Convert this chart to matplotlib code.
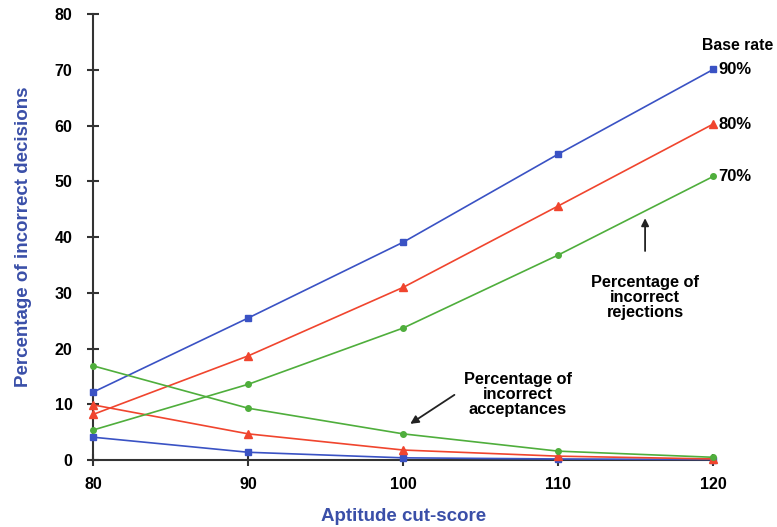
import matplotlib.pyplot as plt

plt.rcParams['font.family'] = ['Liberation Sans', 'DejaVu Sans']
plt.rcParams['font.weight'] = 'bold'

cut_scores = [80, 90, 100, 110, 120]

# percentage of incorrect rejections, by base rate
rej_90 = [12.2, 25.5, 39.1, 54.9, 70.1]
rej_80 = [8.2, 18.7, 31.0, 45.6, 60.3]
rej_70 = [5.4, 13.6, 23.7, 36.8, 50.9]

# percentage of incorrect acceptances, by base rate
acc_90 = [4.1, 1.4, 0.4, 0.2, 0.1]
acc_80 = [9.9, 4.7, 1.8, 0.7, 0.2]
acc_70 = [16.9, 9.3, 4.7, 1.6, 0.5]

base_rates = ["90%", "80%", "70%"]

BLUE = "#3a52c4"
RED = "#f0452e"
GREEN = "#4fae3c"
LABEL_BLUE = "#3a4fa8"

fig = plt.figure(figsize=(7.77, 5.27), dpi=100)
ax = fig.add_axes([0.12, 0.127, 0.798, 0.846])

styles = [(BLUE, "s", 5), (RED, "^", 6), (GREEN, "o", 4)]
rej_series = [rej_90, rej_80, rej_70]
acc_series = [acc_90, acc_80, acc_70]

for (color, marker, ms), rej, acc, rate in zip(styles, rej_series, acc_series, base_rates):
    ax.plot(cut_scores, rej, color=color, lw=1.2, marker=marker, ms=ms, clip_on=False, zorder=3)
    ax.plot(cut_scores, acc, color=color, lw=1.2, marker=marker, ms=ms, clip_on=False, zorder=3)
    ax.annotate(rate, (cut_scores[-1], rej[-1]), xytext=(3.5, 0), textcoords="offset points",
                ha="left", va="center", fontsize=12, fontweight="bold", annotation_clip=False)

ax.annotate("Base rate", (cut_scores[-1], rej_90[-1]), xytext=(-8, 17), textcoords="offset points",
            ha="left", va="center", fontsize=11.3, fontweight="bold", annotation_clip=False)

ax.annotate("Percentage of\nincorrect\nrejections", xy=(115.6, 43.4), xytext=(115.6, 29.2),
            ha="center", va="center", fontsize=11.8, fontweight="bold", linespacing=1.02,
            arrowprops=dict(arrowstyle="-|>", color="#222222", lw=1.3, shrinkA=15, shrinkB=0,
                            mutation_scale=11))
ax.annotate("Percentage of\nincorrect\nacceptances", xy=(100.45, 6.5), xytext=(107.4, 11.8),
            ha="center", va="center", fontsize=11.8, fontweight="bold", linespacing=1.02)
ax.annotate("", xy=(100.45, 6.5), xytext=(103.3, 11.7),
            arrowprops=dict(arrowstyle="-|>", color="#222222", lw=1.3, shrinkA=0, shrinkB=0,
                            mutation_scale=12))

ax.set_xlim(80, 120)
ax.set_ylim(0, 80)
ax.set_xticks(cut_scores)
ax.set_yticks(range(0, 81, 10))
ax.spines["top"].set_visible(False)
ax.spines["right"].set_visible(False)
for side in ("left", "bottom"):
    ax.spines[side].set_linewidth(1.5)
    ax.spines[side].set_color("#333333")
ax.tick_params(axis="both", direction="inout", length=8, width=1.5, color="#333333",
               labelsize=11.5)
ax.tick_params(axis="x", pad=8)
ax.tick_params(axis="y", pad=11)
for lbl in ax.get_xticklabels() + ax.get_yticklabels():
    lbl.set_fontweight("bold")

ax.set_xlabel("Aptitude cut-score", fontsize=13.5, fontweight="bold", color=LABEL_BLUE, labelpad=12)
ax.set_ylabel("Percentage of incorrect decisions", fontsize=13.5, fontweight="bold",
              color=LABEL_BLUE, labelpad=16)

fig.savefig("out.png", dpi=100)
